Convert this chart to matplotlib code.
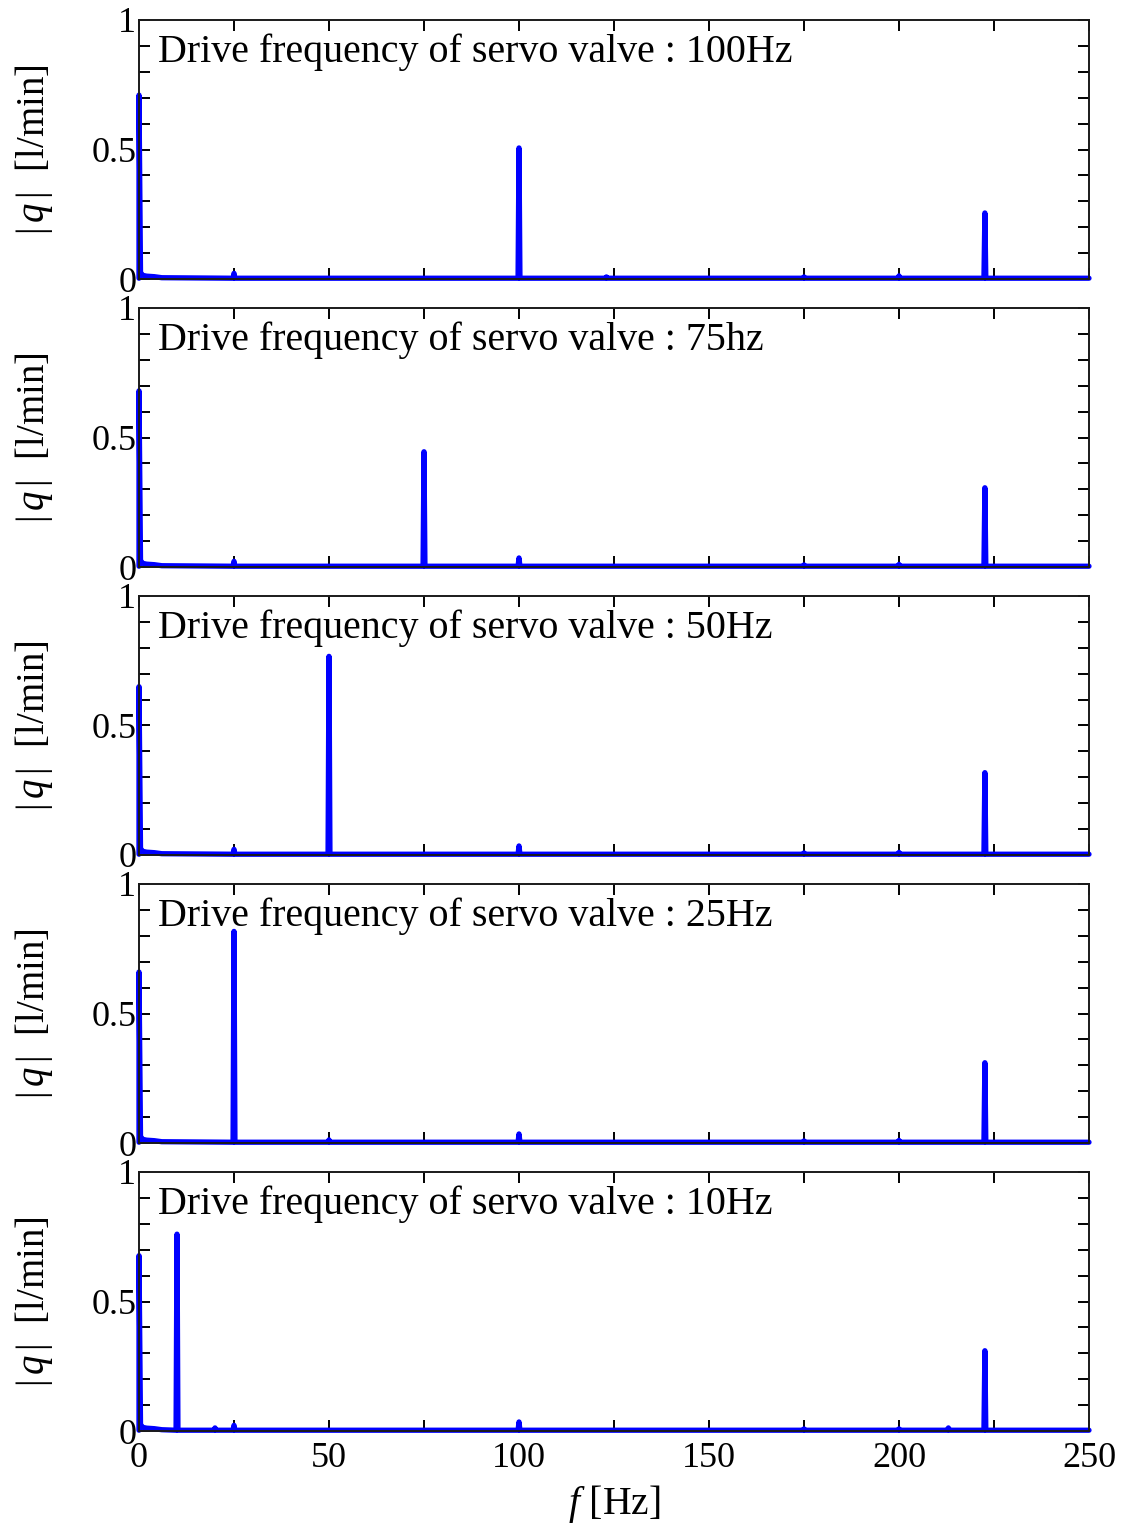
import matplotlib.pyplot as plt
import numpy as np

plt.rcParams['font.family'] = ['Liberation Serif', 'DejaVu Serif']
plt.rcParams['mathtext.fontset'] = 'custom'
plt.rcParams['mathtext.rm'] = 'Liberation Serif'
plt.rcParams['mathtext.it'] = 'Liberation Serif:italic'

# drive frequency labels, one per panel (top to bottom)
titles = ['Drive frequency of servo valve : 100Hz',
          'Drive frequency of servo valve : 75hz',
          'Drive frequency of servo valve : 50Hz',
          'Drive frequency of servo valve : 25Hz',
          'Drive frequency of servo valve : 10Hz']

# spectral peaks: (frequency [Hz], amplitude [l/min])
peaks_100 = [(0, 0.71), (25, 0.022), (100, 0.506), (123, 0.008), (175, 0.008), (200, 0.012), (222.6, 0.255)]
peaks_75 = [(0, 0.68), (25, 0.022), (75, 0.445), (100, 0.035), (175, 0.008), (200, 0.01), (222.6, 0.306)]
peaks_50 = [(0, 0.65), (25, 0.022), (50, 0.767), (100, 0.035), (175, 0.008), (200, 0.01), (222.6, 0.318)]
peaks_25 = [(0, 0.66), (25, 0.817), (50, 0.012), (100, 0.035), (175, 0.008), (200, 0.01), (222.6, 0.31)]
peaks_10 = [(0, 0.677), (10, 0.76), (20, 0.012), (25, 0.022), (100, 0.035), (175, 0.008), (200, 0.008), (213, 0.012), (222.6, 0.31)]
all_peaks = [peaks_100, peaks_75, peaks_50, peaks_25, peaks_10]

# low-frequency tail right after the DC peak
tail_f = [0.4, 1.0, 2.0, 4.0, 6.0]
tail_q = [0.025, 0.014, 0.011, 0.009, 0.005]
floor_q = 0.003

W, H = 1123, 1528
fig = plt.figure(figsize=(W / 100, H / 100), dpi=100)

tops = [20, 308, 596, 884, 1172]
ph = 259
left, right = 139, 1089

for i, (top, peaks, title) in enumerate(zip(tops, all_peaks, titles)):
    ax = fig.add_axes([left / W, 1 - (top + ph) / H, (right - left) / W, ph / H])

    xs, ys = [], []
    for f, a in peaks:
        if f == 0:
            xs += [0, 0]
            ys += [floor_q, a]
            xs += tail_f
            ys += tail_q
        else:
            xs += [f - 0.25, f, f + 0.25]
            ys += [floor_q, a, floor_q]
    xs.append(250)
    ys.append(floor_q)
    order = np.argsort(xs, kind='stable')
    xs = np.array(xs)[order]
    ys = np.array(ys)[order]
    ax.plot(xs, ys, color='#0000ff', lw=3.8, solid_joinstyle='round',
            solid_capstyle='round', clip_on=False)

    ax.set_xlim(0, 250)
    ax.set_ylim(0, 1)
    ax.set_xticks(np.arange(0, 251, 50))
    ax.set_xticks(np.arange(25, 250, 50), minor=True)
    ax.set_yticks([0, 0.5, 1])
    ax.set_yticklabels(['0', '0.5', '1'])
    ax.set_yticks(np.arange(0.1, 1.0, 0.1), minor=True)
    ax.tick_params(which='both', direction='in', top=True, right=True,
                   length=8, width=1.4, labelsize=26)
    ax.tick_params(axis='y', pad=2)
    for sp in ax.spines.values():
        sp.set_linewidth(1.4)
        sp.set_color('#1a1a1a')
    if i < 4:
        ax.tick_params(labelbottom=False)
    else:
        ax.tick_params(axis='x', pad=8)
        ax.set_xlabel(r'$f$ [Hz]', fontsize=28.5, labelpad=6)

    ax.text(0.02, 0.875, title, transform=ax.transAxes, fontsize=28.8, va='center', ha='left')
    ax.set_ylabel(r'$|\,q\,|$  [l/min]', fontsize=28, labelpad=26)

plt.savefig('out.png', dpi=100)
